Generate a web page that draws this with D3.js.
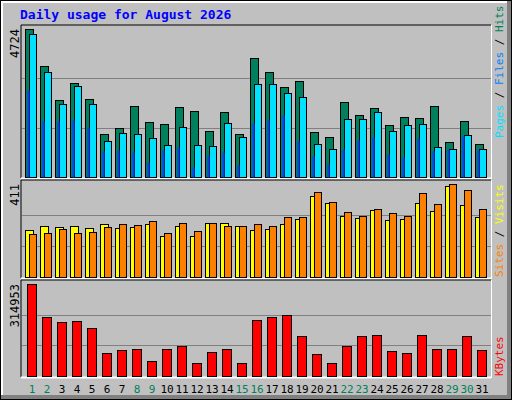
<!DOCTYPE html>
<html><head><meta charset="utf-8">
<script src="https://cdn.jsdelivr.net/npm/d3@7"></script>
<style>body{margin:0;background:#fff}svg{display:block}</style>
</head><body><svg id="c" width="512" height="400"></svg>
<script>
const days = d3.range(1,32);
const weekend = [1,2,8,9,15,16,22,23,29,30];
const hits  = [4724,3557,2464,3010,2496,1371,1564,2271,1757,1693,2239,2111,1468,2078,1371,3814,3364,2882,3075,1435,1275,2399,1982,2207,1661,1918,1886,2271,1114,1789,1050];
const files = [4563,3342,2335,2914,2335,1146,1403,1371,1242,1018,1596,1018,986,1725,1275,2978,2978,2689,2560,1050,890,1853,1853,2078,1468,1661,1693,954,890,1339,890];
const pages = [2764,1800,1800,1832,1607,826,857,793,471,857,954,311,697,793,375,1725,1821,1982,1146,665,407,890,1178,1275,729,633,1242,826,890,1307,857];
const visits= [206,224,220,224,215,233,215,220,233,180,224,180,237,237,224,206,211,233,255,357,326,268,259,295,251,255,326,290,401,317,264];
const sites = [189,193,211,193,198,220,233,228,246,193,237,202,237,224,224,233,224,264,264,374,330,286,268,299,282,268,370,321,410,383,299];
const kbytes= [314953,200900,183800,187200,163200,77700,88000,91400,50300,91400,101700,43500,81100,91400,43500,190700,200900,207800,135900,74300,43500,101700,135900,139300,84600,77700,139300,91400,91400,135900,88000];
const maxLabels = ["4724","411","314953"];

const svg = d3.select("#c");
const mono = "'DejaVu Sans Mono', monospace";
// background with 3D frame
svg.append("rect").attr("width",512).attr("height",400).attr("fill","#000");
svg.append("rect").attr("x",1).attr("y",1).attr("width",510).attr("height",398).attr("fill","#808080");
svg.append("rect").attr("x",1).attr("y",1).attr("width",506).attr("height",394).attr("fill","#fff");
svg.append("rect").attr("x",3).attr("y",3).attr("width",504).attr("height",392).attr("fill","#c0c0c0");

svg.append("text").attr("x",20).attr("y",19).attr("font-family",mono).attr("font-weight","bold")
  .attr("font-size",13).attr("fill","#0000ff").text("Daily usage for August 2026");

const x = d3.scaleLinear().domain([1,32]).range([25,25+15*31]);
const L=21, R=491;
const panels = [{t:25,b:177,maxY:29},{t:180,b:277,maxY:184},{t:280,b:376,maxY:284}];
// panel boxes
panels.forEach(p=>{
  svg.append("rect").attr("x",L).attr("y",p.t).attr("width",R-L).attr("height",p.b-p.t+1).attr("fill","#c0c0c0");
  svg.append("line").attr("x1",L).attr("x2",R).attr("y1",p.t).attr("y2",p.t).attr("stroke","#000");
  svg.append("line").attr("x1",L).attr("x2",L).attr("y1",p.t).attr("y2",p.b+1).attr("stroke","#000");
  svg.append("line").attr("x1",L).attr("x2",R).attr("y1",p.b+1.5).attr("y2",p.b+1.5).attr("stroke","#fff").attr("stroke-width",2);
  svg.append("line").attr("x1",R+0.5).attr("x2",R+0.5).attr("y1",p.t).attr("y2",p.b+2).attr("stroke","#fff");
});

function panel(p, series, maxV, label){
  const y = d3.scaleLinear().domain([0,maxV]).range([p.b,p.maxY]);
  [1/3,2/3].forEach(f=>{
    const yy=Math.round(y(maxV*f))+0.5;
    svg.append("line").attr("x1",L+1).attr("x2",R).attr("y1",yy).attr("y2",yy).attr("stroke","#808080");
  });
  series.forEach(s=>{
    svg.append("g").selectAll("rect").data(s.data).join("rect")
      .attr("x",(d,i)=>x(days[i])+s.dx+0.5).attr("width",s.w)
      .attr("y",d=>Math.round(y(d))+0.5).attr("height",d=>p.b-Math.round(y(d)))
      .attr("fill",s.color).attr("stroke",s.stroke?"#000":"none");
  });
  svg.append("text").attr("transform",`translate(19,${p.maxY}) rotate(-90)`).attr("text-anchor","end")
    .attr("font-family",mono).attr("font-size",12).attr("fill","#000").text(label);
}
panel(panels[0],[
  {data:hits,color:"#00805c",dx:0,w:8,stroke:true},
  {data:files,color:"#00e0ff",dx:4,w:7,stroke:true},
  {data:pages,color:"#0040ff",dx:2,w:2,stroke:false}],4724,maxLabels[0]);
panel(panels[1],[
  {data:visits,color:"#ffff00",dx:0,w:8,stroke:true},
  {data:sites,color:"#ff8000",dx:4,w:7,stroke:true}],411,maxLabels[1]);
panel(panels[2],[
  {data:kbytes,color:"#ff0000",dx:2,w:9,stroke:true}],314953,maxLabels[2]);

// day labels
svg.append("g").selectAll("text").data(days).join("text")
  .attr("x",d=>x(d)+7).attr("y",393).attr("text-anchor","middle")
  .attr("font-family",mono).attr("font-size",11)
  .attr("fill",d=>weekend.includes(d)?"#00805c":"#000").text(d=>d);

// right legends
function legend(yBottom, parts){
  const t=svg.append("text").attr("transform",`translate(503,${yBottom}) rotate(-90)`)
    .attr("font-family",mono).attr("font-size",11);
  parts.forEach(([s,c])=>t.append("tspan").attr("fill",c).text(s));
}
legend(138,[["Pages","#00e0ff"],[" / ","#000"],["Files","#0080ff"],[" / ","#000"],["Hits","#00805c"]]);
legend(277,[["Sites","#ff8000"],[" / ","#000"],["Visits","#ffff00"]]);
legend(376,[["KBytes","#ff0000"]]);
</script></body></html>
